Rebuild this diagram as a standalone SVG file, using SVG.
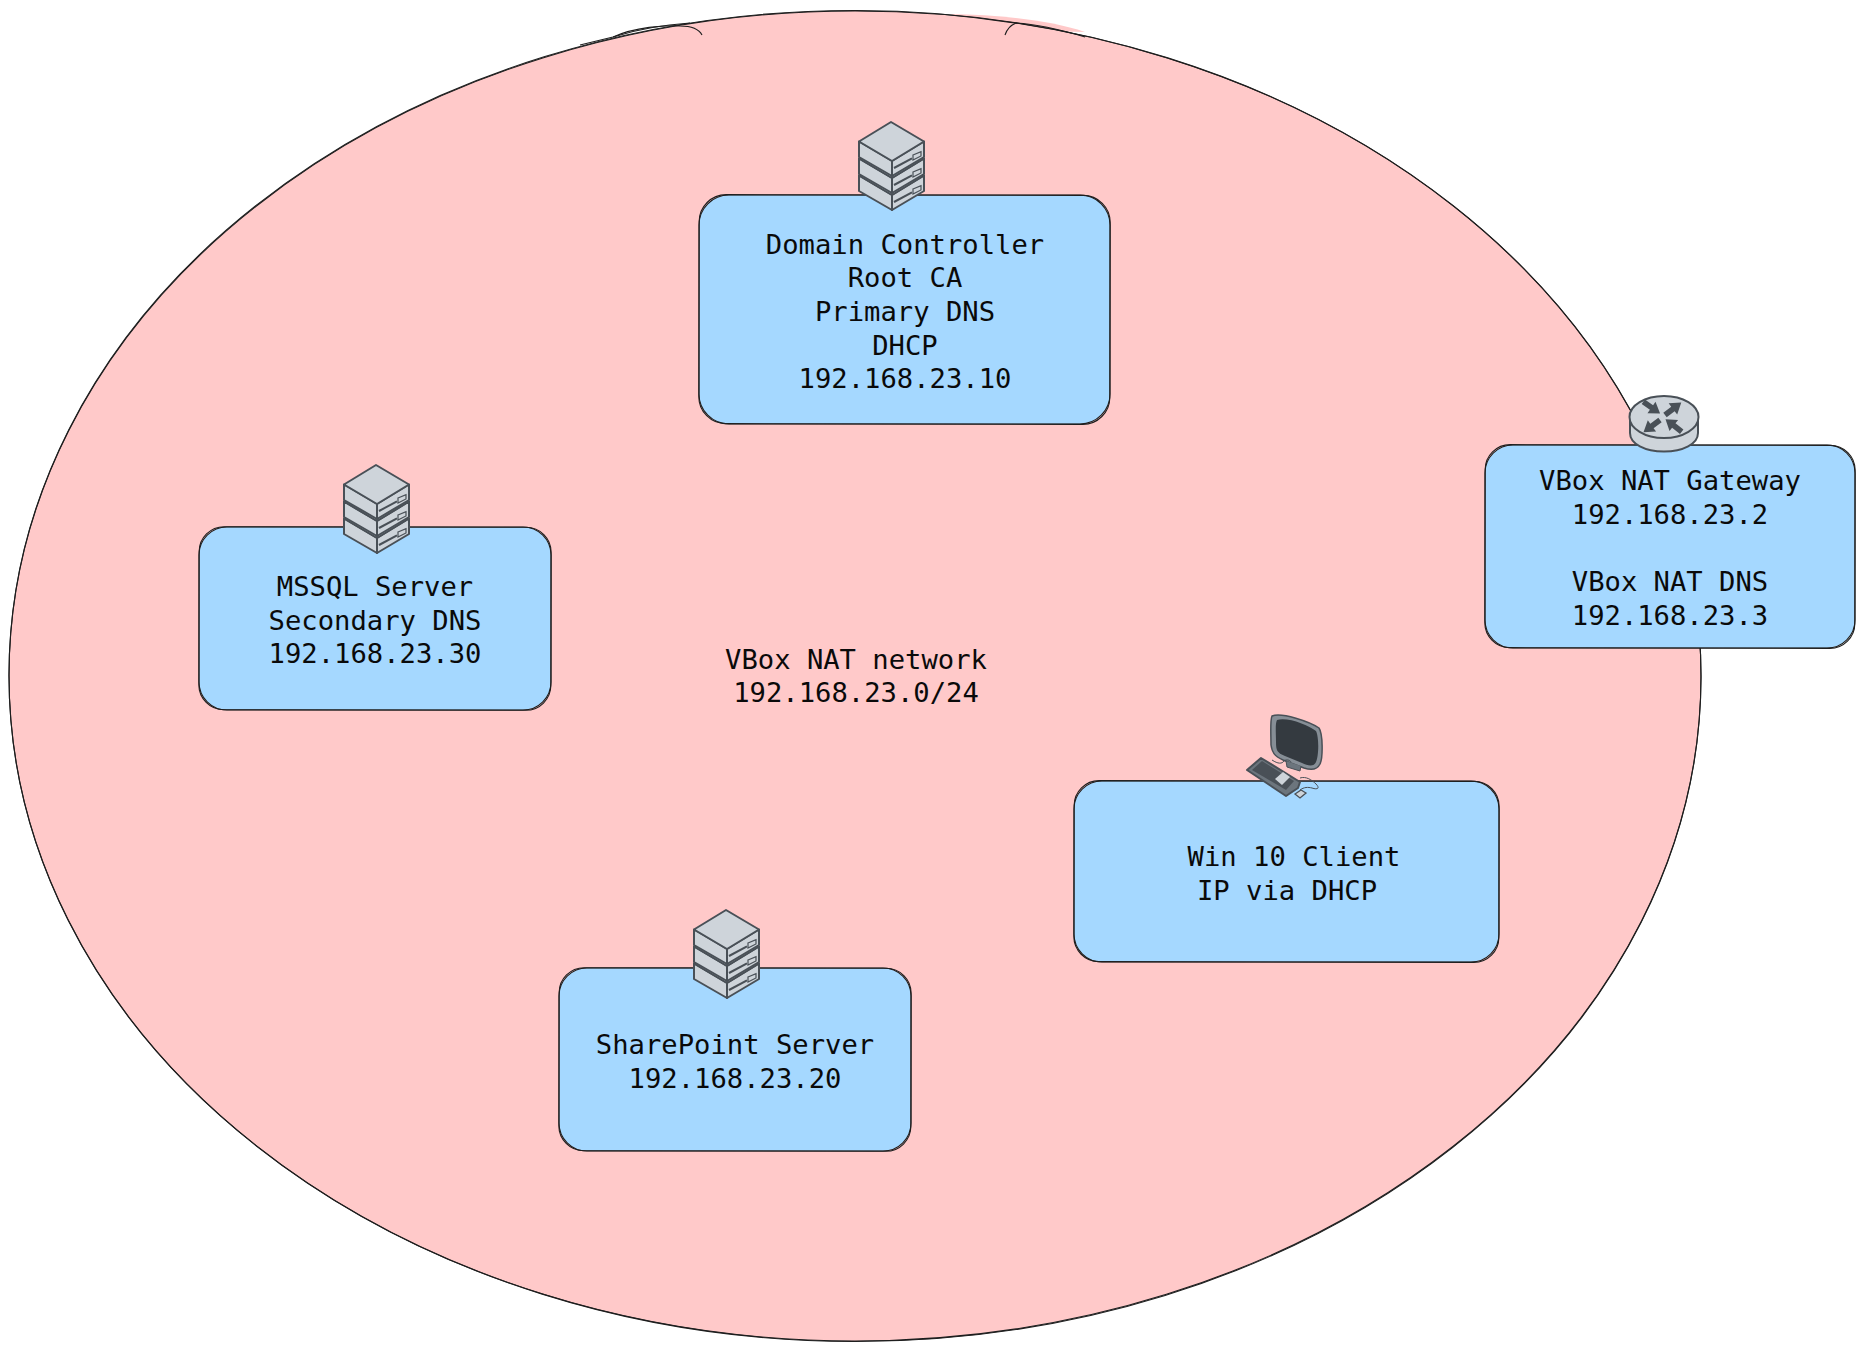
<svg xmlns="http://www.w3.org/2000/svg" width="1864" height="1349" viewBox="0 0 1864 1349">
<style>
.ln{fill:none;stroke:#1e1e1e;stroke-width:1.1}
.bx{fill:#a5d8ff;stroke:none}
.t{font-family:"DejaVu Sans Mono","Liberation Mono",monospace;font-size:27.2px;fill:#0a0a0a;text-anchor:middle}
.ic{stroke:#495057;stroke-width:2;stroke-linejoin:round;fill:#ced4da}
.ia{fill:#495057;stroke:none}
</style>
<defs>
<g id="layer">
<path class="ic" d="M0 19.500V35L33 54V39Z"/>
<path class="ic" d="M33 39L65 19.500V35L33 54Z"/>
<path class="ic" d="M0 19.500L32 0L65 19.500L33 39Z"/>
<path d="M35 46L53 36.300" stroke="#495057" stroke-width="2" fill="none"/>
<path d="M54 33L62 29.700V34L54 38Z" fill="none" stroke="#495057" stroke-width="1.200"/>
</g>
<g id="server">
<use href="#layer" y="34"/>
<use href="#layer" y="17"/>
<use href="#layer"/>
</g>
<path id="arr" d="M0 -2.800H10V-7L20.500 0L10 7V2.800H0Z"/>
</defs>
<g id="network">
<ellipse cx="855" cy="676" rx="846" ry="665" fill="#ffc9c9"/>
<path d="M950 14C1000 15 1050 20 1085 32L1000 30Z" fill="#ffc9c9"/>
<ellipse class="ln" cx="855" cy="676" rx="846" ry="665"/>
<ellipse class="ln" cx="855" cy="676" rx="846" ry="665.500" transform="rotate(0.12 855 676)"/>
<path class="ln" d="M580 45L613 37C635 27 665 25 680 26C692 26 699 29 702 35"/>
<path class="ln" d="M613 37C635 30 660 25 690 23"/>
<path class="ln" d="M1005 35C1007 29 1011 25 1016 23C1035 24 1062 30 1085 37"/>
<text class="t" x="856" y="669">VBox NAT network</text>
<text class="t" x="856" y="702">192.168.23.0/24</text>
</g>
<g id="connectors"/>
<g id="domain-controller">
<rect class="bx" x="699" y="195" width="411" height="229" rx="30"/>
<rect class="ln" x="699" y="195" width="411" height="229" rx="30"/>
<rect class="ln" x="699" y="195" width="411" height="229" rx="27" transform="rotate(0.12 905 310)"/>
<use href="#server" x="859" y="122"/>
<text class="t" x="905" y="253.500">Domain Controller</text>
<text class="t" x="905" y="287">Root CA</text>
<text class="t" x="905" y="320.500">Primary DNS</text>
<text class="t" x="905" y="354.500">DHCP</text>
<text class="t" x="905" y="388">192.168.23.10</text>
</g>
<g id="mssql-server">
<rect class="bx" x="199" y="527" width="352" height="183" rx="28"/>
<rect class="ln" x="199" y="527" width="352" height="183" rx="28"/>
<rect class="ln" x="199" y="527" width="352" height="183" rx="25" transform="rotate(0.12 375 618)"/>
<use href="#server" x="344" y="465"/>
<text class="t" x="375" y="596">MSSQL Server</text>
<text class="t" x="375" y="629.500">Secondary DNS</text>
<text class="t" x="375" y="663">192.168.23.30</text>
</g>
<g id="sharepoint-server">
<rect class="bx" x="559" y="968" width="352" height="183" rx="28"/>
<rect class="ln" x="559" y="968" width="352" height="183" rx="28"/>
<rect class="ln" x="559" y="968" width="352" height="183" rx="25" transform="rotate(0.12 735 1060)"/>
<use href="#server" x="694" y="910"/>
<text class="t" x="735" y="1053.500">SharePoint Server</text>
<text class="t" x="735" y="1087.500">192.168.23.20</text>
</g>
<g id="win10-client">
<rect class="bx" x="1074" y="781" width="425" height="181" rx="28"/>
<rect class="ln" x="1074" y="781" width="425" height="181" rx="28"/>
<rect class="ln" x="1074" y="781" width="425" height="181" rx="25" transform="rotate(0.12 1286 871)"/>
<path d="M1272 716C1282 712 1310 722 1319 728C1323 734 1323 758 1320 764C1317 770 1310 770 1304 768L1283 760C1274 756 1272 752 1271 745C1271 735 1270 720 1272 716Z" fill="#868e96" stroke="#495057" stroke-width="1.500"/>
<path d="M1277 720C1288 717 1308 725 1316 731C1319 737 1319 755 1316 762C1314 767 1308 766 1302 763L1285 756C1277 753 1276 750 1276 742C1276 733 1275 724 1277 720Z" fill="#343a40"/>
<path d="M1286 761L1287 767L1300 771L1301 766" fill="#6c757d" stroke="#495057" stroke-width="1"/>
<path class="ic" style="fill:#6c757d" d="M1247 770L1261 758L1300 782L1298 788L1286 796Z"/>
<path d="M1252 770L1262 761L1294 781L1286 790Z" fill="#495057"/>
<path d="M1275 779L1283 772L1290 777L1282 785Z" fill="#ced4da"/>
<path d="M1272 760C1278 764 1282 764 1284 761C1286 759 1290 760 1291 762M1300 778C1306 776 1312 780 1316 784C1320 788 1318 790 1312 788C1308 787 1304 787 1300 790" fill="none" stroke="#495057" stroke-width="1"/>
<path d="M1295 794L1301 790L1306 793L1300 798Z" fill="#ced4da" stroke="#495057" stroke-width="1.300"/>
<text class="t" x="1294" y="865.500">Win 10 Client</text>
<text class="t" x="1287" y="899.500">IP via DHCP</text>
</g>
<g id="vbox-nat-gateway">
<rect class="bx" x="1485" y="445" width="370" height="203" rx="28"/>
<rect class="ln" x="1485" y="445" width="370" height="203" rx="28"/>
<rect class="ln" x="1485" y="445" width="370" height="203" rx="25" transform="rotate(0.12 1670 546)"/>
<path class="ic" d="M1630 417V433C1630 444 1645 451.500 1664 451.500C1683 451.500 1698 444 1698 433V417Z"/>
<ellipse class="ic" cx="1664" cy="417" rx="34.500" ry="21"/>
<g class="ia">
<use href="#arr" transform="translate(1643.300 401.700) rotate(35)"/>
<use href="#arr" transform="translate(1665 415) rotate(-37.500)"/>
<use href="#arr" transform="translate(1660 420) rotate(143.600)"/>
<use href="#arr" transform="translate(1681.700 431.700) rotate(217.800)"/>
</g>
<text class="t" x="1670" y="490">VBox NAT Gateway</text>
<text class="t" x="1670" y="523.500">192.168.23.2</text>
<text class="t" x="1670" y="591">VBox NAT DNS</text>
<text class="t" x="1670" y="624.500">192.168.23.3</text>
</g>
</svg>
